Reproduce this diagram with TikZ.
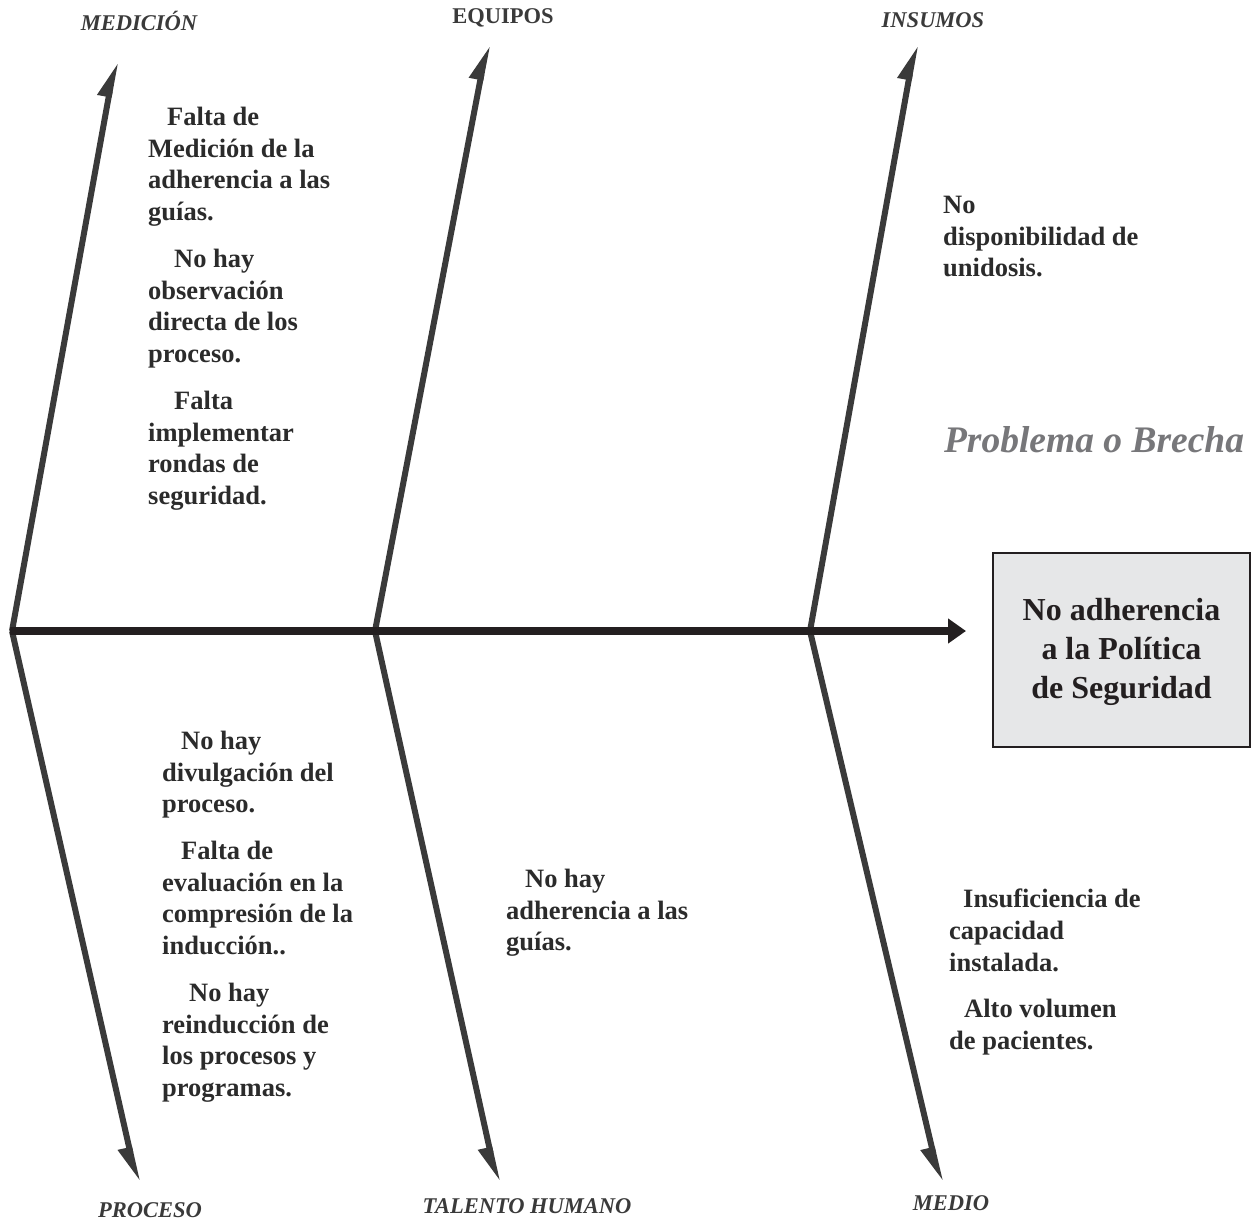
\documentclass[tikz,border=0pt]{standalone}
\usepackage{fontspec}
\setmainfont{Liberation Serif}
\usetikzlibrary{arrows.meta}
\definecolor{espina}{HTML}{231F20}
\definecolor{rama}{HTML}{3A3A3A}
\definecolor{texto}{HTML}{2B2B2B}
\definecolor{brecha}{HTML}{77777A}
\definecolor{caja}{HTML}{E6E7E8}
\tikzset{
  causa/.style={anchor=north west, align=left, inner sep=0pt, text=texto,
    font=\fontsize{26.5}{31.7}\selectfont\bfseries},
  categoria/.style={inner sep=0pt, text=rama, font=\fontsize{22.5}{24}\selectfont\bfseries\itshape},
  efecto/.style={draw=espina, line width=2pt, fill=caja, minimum width=257pt, minimum height=194pt,
    align=center, text=espina, font=\fontsize{32}{39}\selectfont\bfseries},
  ramaup/.style={draw=rama, line width=6pt, -{Triangle[length=28pt,width=22pt,left]}},
  ramadown/.style={draw=rama, line width=6pt, -{Triangle[length=28pt,width=22pt,right]}}
}
\begin{document}
\begin{tikzpicture}[x=1pt,y=-1pt]
\useasboundingbox (0,0) rectangle (1258,1220);

% joints on the spine and arrow tips
\coordinate (j1) at (12,631);
\coordinate (j2) at (375,631);
\coordinate (j3) at (810,631);
\coordinate (tm) at (115,62);
\coordinate (te) at (487,45);
\coordinate (ti) at (915,45);
\coordinate (tp) at (137,1182);
\coordinate (tt) at (497,1182);
\coordinate (tmd) at (940,1182);
\coordinate (s0) at (10,631);
\coordinate (s1) at (966,631);

% categories
\node[categoria] (medicion) at (139,21) {MEDICIÓN};
\node[categoria, font=\fontsize{22.5}{24}\selectfont\bfseries] (equipos) at (503,18) {EQUIPOS};
\node[categoria] (insumos) at (933,20) {INSUMOS};
\node[categoria] (proceso) at (150,1210) {PROCESO};
\node[categoria] (talento) at (527,1206) {TALENTO HUMANO};
\node[categoria] (medio) at (951,1203) {MEDIO};

% effect
\node[efecto] (efecto) at (1121.5,650) {};
\node[align=center, text=espina, inner sep=0pt, font=\fontsize{32}{39}\selectfont\bfseries] (efectotxt) at (1121.5,652) {No adherencia\\a la Política\\de Seguridad};
\node[text=brecha, inner sep=0pt, font=\fontsize{37.5}{40}\selectfont\bfseries\itshape] (brecha) at (1094,440) {Problema o Brecha};

% causes
\node[causa] (c1) at (148,107) {\hspace*{19pt}Falta de\\Medición de la\\adherencia a las\\guías.};
\node[causa] (c2) at (148,249) {\hspace*{26pt}No hay\\observación\\directa de los\\proceso.};
\node[causa] (c3) at (148,391) {\hspace*{26pt}Falta\\implementar\\rondas de\\seguridad.};
\node[causa] (c4) at (943,196) {No\\disponibilidad de\\unidosis.};
\node[causa] (c5) at (162,731) {\hspace*{19pt}No hay\\divulgación del\\proceso.};
\node[causa] (c6) at (162,841) {\hspace*{19pt}Falta de\\evaluación en la\\compresión de la\\inducción..};
\node[causa] (c7) at (162,983) {\hspace*{27pt}No hay\\reinducción de\\los procesos y\\programas.};
\node[causa] (c8) at (506,869) {\hspace*{19pt}No hay\\adherencia a las\\guías.};
\node[causa] (c9) at (949,889) {\hspace*{14pt}Insuficiencia de\\capacidad\\instalada.};
\node[causa] (c10) at (949,999) {\hspace*{15pt}Alto volumen\\de pacientes.};

% bones
\path[ramaup] (j1) -- (tm);
\path[ramaup] (j2) -- (te);
\path[ramaup] (j3) -- (ti);
\path[ramadown] (j1) -- (tp);
\path[ramadown] (j2) -- (tt);
\path[ramadown] (j3) -- (tmd);
\path[draw=espina, line width=8pt, -{Triangle[length=18pt,width=24pt]}] (s0) -- (s1);
\end{tikzpicture}
\end{document}
